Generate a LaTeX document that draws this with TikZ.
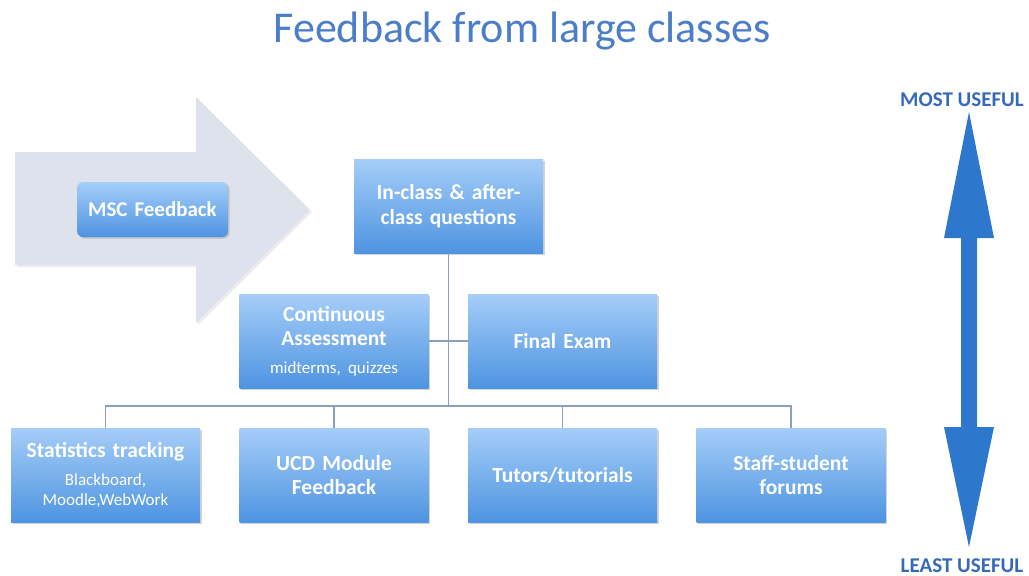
\documentclass[tikz,border=0pt]{standalone}
\usepackage{fontspec}
\setmainfont{Carlito}
\usetikzlibrary{shadows}
\definecolor{titleblue}{RGB}{75,125,200}
\definecolor{boxtop}{RGB}{165,205,248}
\definecolor{boxbot}{RGB}{78,148,225}
\definecolor{arrowbg}{RGB}{221,226,236}
\definecolor{bigblue}{RGB}{45,120,205}
\definecolor{lblblue}{RGB}{55,105,185}
\definecolor{conncol}{RGB}{140,160,190}
\tikzset{
  fbox/.style={rectangle, draw=none, top color=boxtop, bottom color=boxbot,
    minimum width=189pt, minimum height=94pt, text width=185pt, align=center,
    text=white, font=\fontsize{21.5}{24.5}\selectfont\bfseries, inner sep=0pt,
    drop shadow={shadow xshift=1.5pt, shadow yshift=-1.5pt, opacity=0.35}},
  mscbox/.style={fbox, minimum width=151pt, minimum height=55pt, text width=148pt,
    rounded corners=6pt, font=\fontsize{21}{24}\selectfont\bfseries},
  conn/.style={draw=conncol, line width=1.5pt},
  endlbl/.style={text=lblblue, font=\fontsize{21}{24}\selectfont\bfseries}
}
\newcommand{\subtxt}{\fontsize{17}{20}\selectfont\mdseries}
\begin{document}
\begin{tikzpicture}[x=1pt,y=-1pt]
\useasboundingbox (0,0) rectangle (1029,576);
% title
\node (title) at (522,31) {\textcolor{titleblue}{\fontsize{44}{50}\selectfont Feedback from large classes}};
% background arrow
\fill[arrowbg, drop shadow={shadow xshift=2pt, shadow yshift=-2pt, opacity=0.15}]
  (15,152) -- (196,152) -- (196,97) -- (310,210) -- (196,323) -- (196,265) -- (15,265) -- cycle;
\node[mscbox] (msc) at (152.5,209.5) {MSC Feedback};
% boxes
\node[fbox] (inclass) at (448.5,206) {In-class \& after-\\class questions};
\node[fbox] (ca) at (334,341) {Continuous\\Assessment\par{\subtxt\rule{0pt}{26pt}midterms, quizzes\par}};
\node[fbox] (fe) at (562.5,341) {Final Exam};
\node[fbox] (stats) at (105.5,475) {Statistics tracking\par{\subtxt\rule{0pt}{23pt}Blackboard,\\Moodle,WebWork\par}};
\node[fbox] (ucd) at (334,475) {UCD Module\\Feedback};
\node[fbox] (tut) at (562.5,475) {Tutors/tutorials};
\node[fbox] (staff) at (791,475) {Staff-student\\forums};
% connectors
\coordinate (bus) at (448.5,406);
\draw[conn] (inclass.south) -- (bus);
\draw[conn] (ca.east) -- (fe.west);
\draw[conn] (stats.north) |- (bus) -| (staff.north);
\draw[conn] (ucd.north) -- (ucd.north |- bus);
\draw[conn] (tut.north) -- (tut.north |- bus);
% usefulness arrow
\fill[bigblue] (969,112) -- (994,238) -- (977,238) -- (977,427) -- (994,427) -- (969,547)
  -- (944,427) -- (961,427) -- (961,238) -- (944,238) -- cycle;
\node[endlbl] (most) at (962,100) {MOST USEFUL};
\node[endlbl] (least) at (962,566) {LEAST USEFUL};
\end{tikzpicture}
\end{document}
